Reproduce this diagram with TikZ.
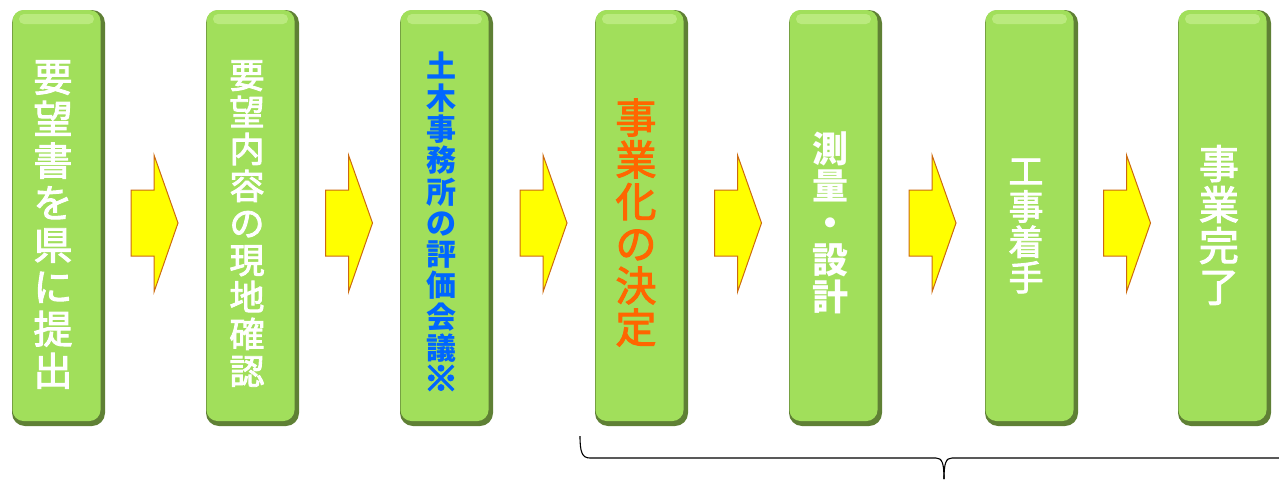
\documentclass[tikz,border=0pt]{standalone}
\usepackage{fontspec}
\newfontfamily\jp{Noto Sans CJK JP}
\newfontfamily\jpm[FakeBold=2.5]{Noto Sans CJK JP}
\newfontfamily\jph[FakeBold=5]{Noto Sans CJK JP}
\definecolor{gface}{HTML}{A1DF5B}
\definecolor{gshadow}{HTML}{5F8035}
\definecolor{ghigh}{HTML}{C6F08E}
\definecolor{arrowfill}{HTML}{FFFF00}
\definecolor{arrowline}{HTML}{CC6A10}
\definecolor{tblue}{HTML}{0066FF}
\definecolor{torange}{HTML}{FF6600}
\tikzset{
  boxname/.style={minimum width=92pt, minimum height=415pt, inner sep=0pt},
  vtext/.style n args={2}{align=center, inner sep=0pt, font=\jpm\fontsize{#1}{#2}\selectfont},
  vtextb/.style n args={2}{align=center, inner sep=0pt, font=\jp\bfseries\fontsize{#1}{#2}\selectfont},
  blockarrow/.style={fill=arrowfill, draw=arrowline, line width=1pt, line join=miter},
  bracestyle/.style={draw=black, line width=1.1pt}
}
\newcommand\greenbox[2]{%
  \fill[gshadow, rounded corners=13pt] (#1,10) rectangle ++(93,416);
  \fill[gface, rounded corners=11pt] (#1+0.5,10) rectangle ++(88,411);
  \fill[ghigh, opacity=.7, rounded corners=5pt] (#1+7,14) rectangle ++(75,10);
  \node[boxname] (#2) at (#1+46,217.5) {};
}
\newcommand\yarrow[1]{%
  \draw[blockarrow] (#1,190) -- ++(23,0) -- ++(0,-35) -- ++(24,68) -- ++(-24,69) -- ++(0,-36) -- ++(-23,0) -- cycle;
}
\begin{document}
\begin{tikzpicture}[x=1pt,y=-1pt]
\useasboundingbox (0,0) rectangle (1279,479);
\greenbox{12}{b1}
\greenbox{206}{b2}
\greenbox{400}{b3}
\greenbox{595}{b4}
\greenbox{789}{b5}
\greenbox{985}{b6}
\greenbox{1178}{b7}
\foreach \i in {0,...,5} {\yarrow{131+194.5*\i}}
\node[vtext={39}{42}, text=white] at ([shift={(-5,7)}]b1.center) {要\\望\\書\\を\\県\\に\\提\\出};
\node[vtext={35}{37}, text=white] at ([shift={(-5,6)}]b2.center) {要\\望\\内\\容\\の\\現\\地\\確\\認};
\node[vtextb={30}{31.3}, text=tblue] at ([shift={(-5,4)}]b3.center) {土\\木\\事\\務\\所\\の\\評\\価\\会\\議\\{\jph\fontsize{34}{31.3}\selectfont ※}};
\node[vtext={41}{42}, text=torange] at ([shift={(-5,5)}]b4.center) {事\\業\\化\\の\\決\\定};
\node[vtextb={36}{37}, text=white] at ([shift={(-5,5)}]b5.center) {測\\量\\・\\設\\計};
\node[vtext={35}{35.5}, text=white] at ([shift={(-5,8.5)}]b6.center) {工\\事\\着\\手};
\node[vtext={40}{41}, text=white] at ([shift={(-5,7.5)}]b7.center) {事\\業\\完\\了};
\draw[bracestyle] (580,436) .. controls (580,452) and (582,458) .. (590,458) -- (936,458) .. controls (942,458) and (944,463) .. (944,479);
\draw[bracestyle] (944,479) .. controls (944,463) and (946,458) .. (952,458) -- (1280,458);
\end{tikzpicture}
\end{document}
